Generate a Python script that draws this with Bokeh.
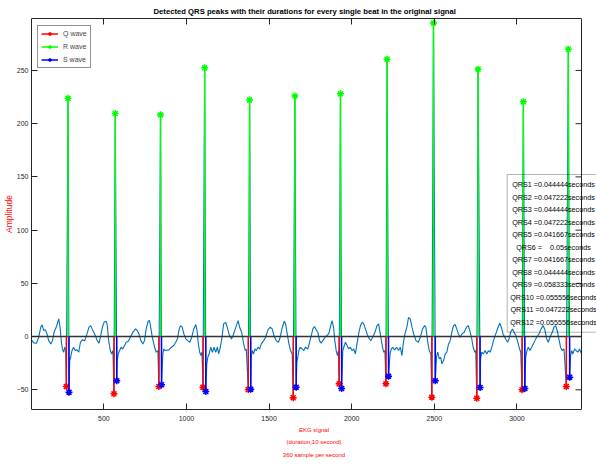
import numpy as np
from bokeh.plotting import figure
from bokeh.layouts import column
from bokeh.models import (Range1d, LinearAxis, FixedTicker, Label, BoxAnnotation,
                          Legend, LegendItem, Span, Div)
from bokeh.embed import file_html
from bokeh.resources import INLINE

# ---- detected fiducial points: sample index and amplitude ----
q_loc = [273, 561, 833, 1100, 1374, 1646, 1924, 2207, 2485, 2757, 3031, 3299]
q_amp = [-46.9, -53.8, -46.9, -47.5, -49.7, -57.5, -44.4, -44.4, -56.9, -57.9, -50.0, -46.9]
r_loc = [283, 569, 843, 1110, 1382, 1656, 1932, 2214, 2495, 2765, 3039, 3311]
r_amp = [223.9, 209.5, 208.3, 252.6, 222.3, 226.0, 228.0, 260.5, 294.6, 251.1, 220.5, 269.9]
s_loc = [289, 578, 849, 1117, 1389, 1664, 1939, 2223, 2506, 2777, 3048, 3319]
s_amp = [-52.2, -41.6, -45.3, -51.6, -49.4, -47.5, -48.8, -37.2, -41.6, -47.8, -48.8, -38.1]

# QRS durations in seconds (360 samples per second)
qrs_dur = [0.044444, 0.047222, 0.044444, 0.047222, 0.041667, 0.05,
           0.041667, 0.044444, 0.058333, 0.055556, 0.047222, 0.055556]

# ---- EKG trace between the QRS complexes ----
ekg_t = [62, 76, 92, 106, 118, 126, 136, 146, 156, 166, 179, 189, 199, 213, 227, 235, 243, 249, 257, 263, 269,
         293, 299, 307, 317, 327, 337, 348, 358, 370, 384, 398, 410, 420, 434, 448, 460, 470, 481, 491, 501, 515,
         521, 529, 539, 547, 555,
         581, 587, 595, 605, 615, 625, 635, 648, 660, 676, 692, 702, 712, 724, 736, 746, 756, 768, 776, 782, 793,
         807, 817, 827,
         857, 863, 871, 893, 909, 923, 935, 945, 956, 964, 974, 984, 996, 1008, 1020, 1032, 1044, 1056, 1064, 1072,
         1080, 1088, 1094,
         1123, 1129, 1137, 1147, 1157, 1167, 1177, 1187, 1195, 1205, 1215, 1225, 1237, 1247, 1257, 1272, 1282, 1292,
         1302, 1312, 1322, 1334, 1346, 1356, 1362,
         1392, 1398, 1406, 1414, 1423, 1433, 1443, 1453, 1467, 1479, 1493, 1507, 1519, 1529, 1543, 1557, 1567, 1580,
         1592, 1600, 1608, 1620, 1630, 1640,
         1668, 1674, 1680, 1688, 1700, 1710, 1720, 1735, 1755, 1765, 1775, 1785, 1795, 1805, 1815, 1825, 1839, 1849,
         1861, 1873, 1881, 1890, 1898, 1906, 1914, 1920,
         1946, 1952, 1962, 1972, 1982, 1992, 2002, 2012, 2022, 2032, 2042, 2053, 2063, 2073, 2083, 2093, 2107, 2117,
         2127, 2141, 2153, 2163, 2171, 2183, 2193, 2201,
         2232, 2240, 2248, 2260, 2272, 2284, 2294, 2304, 2312, 2322, 2334, 2344, 2354, 2365, 2375, 2389, 2403, 2415,
         2429, 2441, 2449, 2459, 2469, 2479,
         2513, 2521, 2530, 2538, 2546, 2556, 2566, 2576, 2586, 2596, 2606, 2616, 2626, 2636, 2646, 2656, 2667, 2681,
         2695, 2705, 2715, 2725, 2735, 2745, 2751,
         2780, 2787, 2797, 2807, 2818, 2828, 2838, 2848, 2858, 2872, 2886, 2896, 2906, 2916, 2932, 2944, 2952, 2962,
         2973, 2983, 2993, 3003, 3013, 3023,
         3053, 3061, 3069, 3079, 3089, 3099, 3109, 3119, 3134, 3146, 3158, 3168, 3180, 3190, 3200, 3214, 3224, 3234,
         3244, 3254, 3264, 3274, 3285,
         3325, 3331, 3339, 3349, 3359, 3369, 3379, 3391]
ekg_v = [-3.1, -5.9, -6.3, -0.6, 8.8, 11.0, 5.6, 6.3, 2.5, -3.8, -6.9, -3.8, 4.1, 9.4, 16.6, 8.8, -5.3, -11.6, -14.7,
         -10.0, -13.1,
         -22.5, -19.4, -13.1, -10.0, -13.1, -12.5, -14.7, -5.3, -3.1, -3.8, 2.5, 8.8, 10.3, 5.6, 1.0, -3.8, -6.3, 1.0,
         8.8, 13.4, 14.4, 10.3, -3.8, -13.1, -16.3, -13.1,
         -22.5, -16.3, -13.1, -10.0, -11.6, -8.4, -5.3, -4.4, -0.6, 4.1, 7.2, 5.6, 2.5, -3.8, -6.9, -3.8, 7.2, 14.4,
         15.0, 10.3, -0.6, -10.0, -14.7, -13.1,
         -16.3, -11.6, -13.1, -12.5, -10.0, -8.4, -5.3, -2.2, 7.2, 10.3, 8.8, 2.5, -2.2, -3.8, -5.3, -0.6, 7.2, 11.3,
         5.6, -6.9, -14.7, -17.8, -14.7,
         -25.6, -19.4, -16.3, -10.0, -14.7, -10.0, -14.7, -10.0, -16.3, -10.0, -0.6, 11.9, 13.4, 8.8, 2.5, -2.2, 1.0,
         5.6, 10.3, 15.0, 8.8, 4.1, -6.9, -13.1, -11.6,
         -19.4, -13.1, -16.3, -11.6, -13.1, -10.0, -11.6, -6.9, -3.8, -0.6, 6.3, 8.8, 7.2, 1.0, -3.8, -5.3, -0.6, 8.8,
         14.4, 11.9, 4.1, -6.9, -13.1, -16.3,
         -24.1, -19.4, -13.1, -10.0, -11.6, -13.1, -10.0, -11.6, 1.0, 7.2, 9.4, 6.3, 4.1, -3.8, -6.3, -3.8, -0.6, 1.0,
         2.5, 10.3, 15.0, 8.8, -3.8, -13.1, -17.8, -13.1,
         -13.1, -10.0, -5.3, -8.4, -11.6, -10.0, -13.1, -11.6, -16.3, -6.9, 2.5, 10.3, 13.4, 11.9, 7.2, 2.5, -2.2, -3.8,
         -0.6, 4.1, 10.3, 11.9, 4.1, -6.9, -14.7, -13.1,
         -16.3, -11.6, -10.0, -12.5, -10.0, -13.1, -10.0, -17.8, -6.9, 2.5, 8.8, 18.1, 16.6, 8.8, 2.5, -3.8, -5.3, -0.6,
         7.2, 10.3, 8.8, -3.8, -13.1, -16.3,
         -19.4, -14.7, -20.9, -19.4, -25.6, -22.5, -16.3, -14.7, -6.9, -3.8, 4.1, 10.3, 11.3, 7.2, 2.5, -0.6, 2.5, 4.1,
         8.8, 10.3, 5.6, -0.6, -10.0, -14.7, -13.1,
         -20.9, -14.7, -16.3, -13.1, -16.3, -13.1, -14.7, -10.0, -3.8, 2.5, 8.8, 12.5, 8.8, 2.5, -2.2, -5.3, -2.2, 4.1,
         7.2, 4.1, 1.0, -3.8, -10.0, -14.7,
         -19.4, -13.1, -10.0, -13.1, -10.0, -6.9, -3.8, -0.6, 2.5, 7.2, 10.3, 7.2, -2.2, -5.3, -0.6, 4.1, 8.8, 10.3,
         5.6, -2.2, -10.0, -13.1, -11.6,
         -17.8, -13.1, -16.3, -11.6, -13.1, -14.7, -11.6, -16.3]

x_ticks = [500, 1000, 1500, 2000, 2500, 3000]
y_ticks = [-50, 0, 50, 100, 150, 200, 250]

# axes limits of the plot box
x_lo, x_hi = 62, 3391
y_lo, y_hi = -68.5, 298.8

# full trace: background samples plus the Q, R and S points, in time order
t_all = np.array(ekg_t + q_loc + r_loc + s_loc, dtype=float)
v_all = np.array(ekg_v + q_amp + r_amp + s_amp, dtype=float)
order = np.argsort(t_all, kind="stable")
t_all, v_all = t_all[order], v_all[order]

FONT = "Liberation Sans"
AX = "#262626"

# The drawing area runs on to the right page edge so that the duration
# box can overhang the right side of the axes box.
BOX_W = 551                     # width of the axes box in pixels
FRAME_W = 566                   # drawing area width (to the page edge)
x_view_hi = x_lo + (x_hi - x_lo) * FRAME_W / BOX_W

p = figure(width=596, height=462, toolbar_location=None, output_backend="svg",
           x_range=Range1d(x_lo, x_view_hi), y_range=Range1d(y_lo, y_hi),
           min_border_left=30, min_border_right=0, min_border_top=18, min_border_bottom=53,
           background_fill_color="white", border_fill_color="white")
p.outline_line_color = None
p.xgrid.visible = False
p.ygrid.visible = False

p.title.text = "Detected QRS peaks with their durations for every single beat in the original signal"
p.title.text_font = FONT
p.title.text_font_size = "7.7px"
p.title.text_font_style = "bold"
p.title.text_color = "black"
p.title.align = "left"
p.title.offset = 122
p.title.standoff = 5


def style_axis(ax, ticks, show_labels):
    ax.ticker = FixedTicker(ticks=ticks)
    ax.major_tick_in = 6
    ax.major_tick_out = 0
    ax.minor_tick_in = 0
    ax.minor_tick_out = 0
    ax.axis_line_color = AX
    ax.major_tick_line_color = AX
    ax.major_label_text_font = FONT
    if show_labels:
        ax.major_label_text_color = AX
        ax.major_label_text_font_size = "7px"
    else:
        ax.major_label_text_color = None
        ax.major_label_text_font_size = "0px"
        ax.major_label_standoff = 0


style_axis(p.xaxis[0], x_ticks, True)
style_axis(p.yaxis[0], y_ticks, True)
p.xaxis[0].bounds = (x_lo, x_hi)
p.xaxis[0].major_label_standoff = 6
p.yaxis[0].major_label_standoff = 3

# axis captions
p.yaxis[0].axis_label = "Amplitude"
p.yaxis[0].axis_label_text_font = FONT
p.yaxis[0].axis_label_text_font_size = "8.5px"
p.yaxis[0].axis_label_text_font_style = "normal"
p.yaxis[0].axis_label_text_color = "#FF0000"
p.yaxis[0].axis_label_standoff = 0

p.xaxis[0].axis_label = "EKG signal\n(duration,10 second)\n360 sample per second"
p.xaxis[0].axis_label_text_font = FONT
p.xaxis[0].axis_label_text_font_size = "6px"
p.xaxis[0].axis_label_text_font_style = "normal"
p.xaxis[0].axis_label_text_color = "#FF0000"
p.xaxis[0].axis_label_text_line_height = 2.1
p.xaxis[0].axis_label_standoff = 3

top_ax = LinearAxis()
style_axis(top_ax, x_ticks, False)
top_ax.bounds = (x_lo, x_hi)
p.add_layout(top_ax, "above")

# right side of the axes box with inward ticks
p.add_layout(Span(location=x_hi, dimension="height", line_color=AX, line_width=1))
p.ray(x=[x_hi] * len(y_ticks), y=y_ticks, length=6, length_units="screen", angle=np.pi,
      line_color=AX, line_width=1)

# EKG trace
p.line(t_all, v_all, line_color="#0072BD", line_width=1.1)

# stem baseline
p.line([x_lo, x_hi], [0, 0], line_color="#333333", line_width=1.5)

# stems with asterisk heads
stems = []
for loc, amp, col in [(q_loc, q_amp, "#FF0000"), (r_loc, r_amp, "#00FF00"), (s_loc, s_amp, "#0000FF")]:
    seg = p.segment(x0=loc, y0=[0] * len(loc), x1=loc, y1=amp, line_color=col, line_width=1.5)
    pts = p.scatter(x=loc, y=amp, marker="asterisk", size=7, line_color=col, line_width=1.5)
    stems.append([seg, pts])

legend = Legend(items=[LegendItem(label="Q wave", renderers=stems[0]),
                       LegendItem(label="R wave", renderers=stems[1]),
                       LegendItem(label="S wave", renderers=stems[2])],
                location=(6, 341), margin=0, padding=3, spacing=4,
                glyph_width=17, glyph_height=9, label_standoff=5,
                label_text_font=FONT, label_text_font_size="7px", label_height=9,
                border_line_color=AX, border_line_width=1, background_fill_color="white")
p.add_layout(legend)

# QRS duration box
p.add_layout(BoxAnnotation(left=475.7, right=575, top=235, bottom=77.3,
                           left_units="screen", right_units="screen",
                           top_units="screen", bottom_units="screen",
                           fill_alpha=0, line_color="black", line_width=1))
for i, d in enumerate(qrs_dur):
    txt = f"QRS{i + 1} ={d:8g}seconds".replace(" ", "\u00a0")
    p.add_layout(Label(x=522, y=224.7 - 12.49 * i, x_units="screen", y_units="screen",
                       text=txt, text_font=FONT, text_font_size="7.2px",
                       text_align="center", text_baseline="middle", text_color="black"))

# figure caption under the chart, running off the bottom of the page
caption = Div(text="Figure (7.): detect QRS peaks with their durations", width=596, height=4,
              styles={"overflow": "hidden", "white-space": "nowrap",
                      "font-family": "Liberation Serif", "font-size": "22px",
                      "font-weight": "bold", "line-height": "14px",
                      "padding-left": "27px", "color": "black", "box-sizing": "border-box"})

page = column(p, caption, spacing=0)
open("out.html", "w").write(file_html(page, INLINE))
